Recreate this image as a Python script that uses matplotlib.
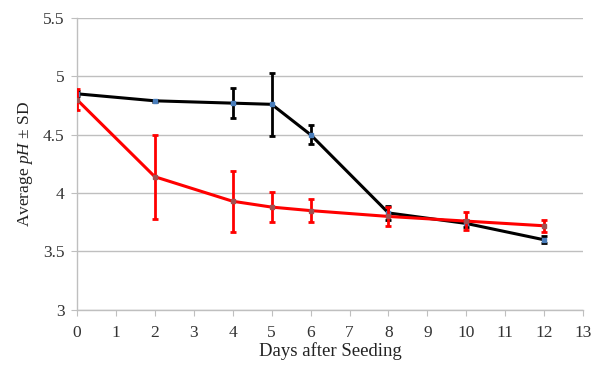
import matplotlib
matplotlib.use("Agg")
import matplotlib.pyplot as plt

days_black = [0, 2, 4, 5, 6, 8, 10, 12]
ph_black = [4.85, 4.79, 4.77, 4.76, 4.50, 3.83, 3.74, 3.60]
sd_black = [0.02, 0.01, 0.13, 0.27, 0.08, 0.06, 0.03, 0.03]

days_red = [0, 2, 4, 5, 6, 8, 10, 12]
ph_red = [4.80, 4.14, 3.93, 3.88, 3.85, 3.80, 3.76, 3.72]
sd_red = [0.09, 0.36, 0.26, 0.13, 0.10, 0.08, 0.08, 0.05]

xticks = list(range(0, 14))
yticks = [3, 3.5, 4, 4.5, 5, 5.5]
ytick_labels = ["3", "3.5", "4", "4.5", "5", "5.5"]

plt.rcParams['font.family'] = ['Liberation Serif', 'DejaVu Serif']
plt.rcParams['mathtext.fontset'] = 'custom'
plt.rcParams['mathtext.rm'] = 'Liberation Serif'
plt.rcParams['mathtext.it'] = 'Liberation Serif:italic'

fig = plt.figure(figsize=(5.92, 3.65), dpi=100)
ax = fig.add_axes([0.130, 0.151, 0.855, 0.800])

ax.errorbar(days_black, ph_black, yerr=sd_black, color='black', lw=2.2,
            elinewidth=2, capsize=2.5, capthick=2, marker='s', ms=3.5,
            mfc='#4a7ebb', mec='#4a7ebb', zorder=3)
ax.errorbar(days_red, ph_red, yerr=sd_red, color='#ff0000', lw=2.2,
            elinewidth=2, capsize=2.5, capthick=2, marker='s', ms=3.5,
            mfc='#a05050', mec='#a05050', zorder=4)

ax.set_xlim(0, 13)
ax.set_ylim(3, 5.5)
ax.set_xticks(xticks)
ax.set_yticks(yticks)
ax.set_yticklabels(ytick_labels)
ax.yaxis.grid(True, color='#bfbfbf', lw=1)
ax.set_axisbelow(True)
for s in ['top', 'right']:
    ax.spines[s].set_visible(False)
for s in ['left', 'bottom']:
    ax.spines[s].set_color('#bfbfbf')
    ax.spines[s].set_linewidth(1)
ax.tick_params(axis='x', colors='#bfbfbf', labelcolor='#333333', length=4, labelsize=12.5, pad=7)
ax.tick_params(axis='y', colors='#bfbfbf', labelcolor='#333333', length=4, labelsize=12.5, pad=5)
ax.set_xlabel('Days after Seeding', fontsize=13.5, color='#222222', labelpad=1)
ax.set_ylabel('Average $\\mathit{pH}$ ± SD', fontsize=12.5, color='#222222', labelpad=6)

fig.savefig('out.png', dpi=100)
